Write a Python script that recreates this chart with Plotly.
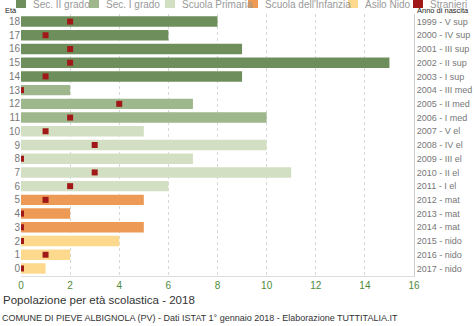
import plotly.graph_objects as go

ages = list(range(0, 19))
totals = [1, 2, 4, 5, 2, 5, 6, 11, 7, 10, 5, 10, 7, 2, 9, 15, 9, 6, 8]
stranieri = [0, 1, 0, 0, 0, 1, 2, 3, 0, 3, 1, 2, 4, 0, 1, 2, 2, 1, 2]
birth_labels = ["2017 - nido", "2016 - nido", "2015 - nido", "2014 - mat", "2013 - mat",
                "2012 - mat", "2011 - I el", "2010 - II el", "2009 - III el", "2008 - IV el",
                "2007 - V el", "2006 - I med", "2005 - II med", "2004 - III med", "2003 - I sup",
                "2002 - II sup", "2001 - III sup", "2000 - IV sup", "1999 - V sup"]
groups = [
    ("Sec. II grado", [14, 15, 16, 17, 18], "#6e8f5c"),
    ("Sec. I grado", [11, 12, 13], "#9fb78c"),
    ("Scuola Primaria", [6, 7, 8, 9, 10], "#d3dfc3"),
    ("Scuola dell'Infanzia", [3, 4, 5], "#ec9a55"),
    ("Asilo Nido", [0, 1, 2], "#fdd98d"),
]
stranieri_color = "#a01818"
legend_names = [g[0] for g in groups] + ["Stranieri"]
legend_colors = [g[2] for g in groups] + [stranieri_color]
legend_px = [16, 89, 165, 248, 348, 413]

ML, MT, MB, MR = 21, 14, 50, 60

fig = go.Figure()
for name, ag, col in groups:
    fig.add_trace(go.Bar(
        x=[totals[a] for a in ag], y=ag, orientation="h", name=name,
        marker=dict(color=col, line=dict(width=0)), width=0.76, showlegend=False,
    ))
fig.add_trace(go.Scatter(
    x=stranieri, y=ages, mode="markers", name="Stranieri", showlegend=False,
    marker=dict(symbol="square", size=6, color=stranieri_color),
))
fig.add_trace(go.Scatter(x=[None], y=[None], yaxis="y2", showlegend=False))

shapes = []
annotations = []
for name, col, px in zip(legend_names, legend_colors, legend_px):
    shapes.append(dict(type="rect", xref="paper", yref="paper", xsizemode="pixel",
                       ysizemode="pixel", xanchor=0, yanchor=1,
                       x0=px - ML, x1=px - ML + 10, y0=MT - 8, y1=MT + 1,
                       fillcolor=col, line=dict(width=0)))
    annotations.append(dict(text=name, x=0, xref="paper", xshift=px - ML + 15,
                            y=1, yref="paper", yshift=MT - 4, xanchor="left",
                            yanchor="middle", showarrow=False,
                            font=dict(size=10, color="#999")))

font = "Liberation Sans, Arial, sans-serif"
annotations += [
    dict(text="Età", x=0, xref="paper", xshift=-18, y=1.0, yref="paper", yshift=-3,
         xanchor="left", yanchor="bottom", showarrow=False, font=dict(size=7.5, color="#222")),
    dict(text="Anno di nascita", x=1, xref="paper", xshift=1, y=1.0, yref="paper", yshift=-3,
         xanchor="left", yanchor="bottom", showarrow=False, font=dict(size=7.5, color="#222")),
    dict(text="Popolazione per età scolastica - 2018", x=0, xref="paper", xshift=-20,
         y=0, yref="paper", yshift=-16, xanchor="left", yanchor="top", showarrow=False,
         font=dict(size=11.5, color="#333")),
    dict(text="COMUNE DI PIEVE ALBIGNOLA (PV) - Dati ISTAT 1° gennaio 2018 - Elaborazione TUTTITALIA.IT",
         x=0, xref="paper", xshift=-21, y=0, yref="paper", yshift=-35, xanchor="left",
         yanchor="top", showarrow=False, font=dict(size=9, color="#333")),
]

fig.update_layout(
    width=474, height=326,
    margin=dict(l=ML, r=MR, t=MT, b=MB, autoexpand=False),
    paper_bgcolor="white", plot_bgcolor="white",
    font=dict(family=font, size=10, color="#666"),
    barmode="overlay",
    showlegend=False,
    xaxis=dict(range=[0, 16], tickvals=list(range(0, 17, 2)), showgrid=True,
               gridcolor="#d8d8d8", griddash="dot", gridwidth=1, zeroline=False,
               tickfont=dict(color="#4f8a3a", size=10), showline=True, linecolor="#ddd",
               ticks="", fixedrange=True),
    yaxis=dict(range=[-0.55, 18.55], tickvals=ages, ticktext=[str(a) for a in ages],
               showgrid=False, zeroline=False, tickfont=dict(size=10, color="#777"),
               ticks="", showline=False),
    yaxis2=dict(range=[-0.55, 18.55], overlaying="y", side="right", tickvals=ages,
                ticktext=birth_labels, showgrid=False, zeroline=False,
                tickfont=dict(size=9, color="#777"), showline=True, linecolor="#ccc",
                ticks=""),
    shapes=shapes,
    annotations=annotations,
)
fig.write_html("out.html")
